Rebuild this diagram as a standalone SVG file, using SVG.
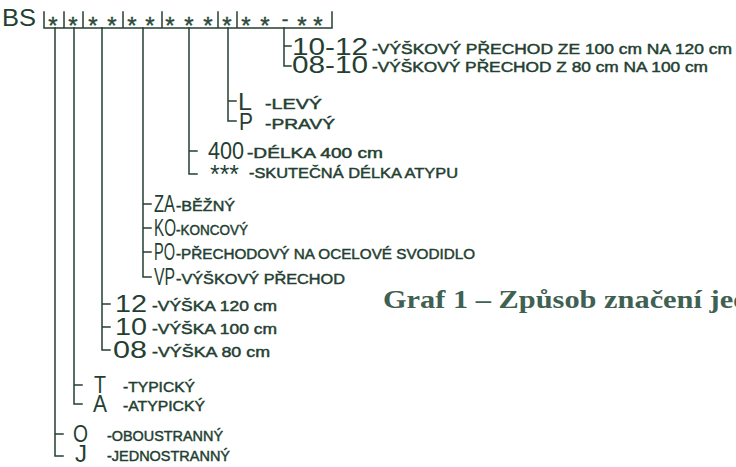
<svg xmlns="http://www.w3.org/2000/svg" width="736" height="467" viewBox="0 0 736 467">
<style>
.bg{fill:#ffffff}
.ln{fill:none;stroke:#243f32;stroke-width:1.5;stroke-linecap:square}
.big{font-family:"Liberation Sans",Arial,sans-serif;font-size:23px;fill:#243f32}
.sm{font-family:"Liberation Sans",Arial,sans-serif;font-size:14px;fill:#243f32;stroke:#243f32;stroke-width:0.45px}
.st{font-family:"Liberation Sans",Arial,sans-serif;font-size:24px;fill:#2c4a3b;stroke:#2c4a3b;stroke-width:0.4px;text-anchor:middle}
.cap{font-family:"Liberation Serif","Times New Roman",serif;font-size:26px;font-weight:bold;fill:#3f6152}
</style>
<rect class="bg" x="0" y="0" width="736" height="467"/>
<g id="connectors">
<path class="ln" d="M44 28H332M44 12V28M64 12V28M83 12V28M123 12V28M162 12V28M218 12V28M237 12V28M332 12V28"/>
<path class="ln" d="M55 28V456H63M55 434H63"/>
<path class="ln" d="M74 28V404H82M74 385H82"/>
<path class="ln" d="M102 28V350H110M102 304H110M102 327H110"/>
<path class="ln" d="M143 28V277H151M143 204H151M143 228H151M143 252H151"/>
<path class="ln" d="M189 28V174H197M189 151H197"/>
<path class="ln" d="M228 28V121H236M228 101H236"/>
<path class="ln" d="M284 28V66H291M284 46H291"/>
</g>
<g id="header">
<text class="big" x="2" y="26" textLength="34" lengthAdjust="spacingAndGlyphs">BS</text>
<text class="st" x="53 73 93 112 132 150 170 189 208 227 246 265" y="34">************</text>
<text class="st" x="285" y="26" style="font-size:20px">-</text>
<text class="st" x="302 318" y="34">**</text>
</g>
<g id="n-10-12">
<text class="big" x="292" y="55" textLength="76" lengthAdjust="spacingAndGlyphs">10-12</text>
<text class="sm" x="372" y="54" textLength="360" lengthAdjust="spacingAndGlyphs">-VÝŠKOVÝ PŘECHOD ZE 100 cm NA 120 cm</text>
</g>
<g id="n-08-10">
<text class="big" x="292" y="73" textLength="76" lengthAdjust="spacingAndGlyphs">08-10</text>
<text class="sm" x="372" y="72" textLength="336" lengthAdjust="spacingAndGlyphs">-VÝŠKOVÝ PŘECHOD Z 80 cm NA 100 cm</text>
</g>
<g id="n-L">
<text class="big" x="238" y="110" textLength="14" lengthAdjust="spacingAndGlyphs">L</text>
<text class="sm" x="265" y="109" textLength="57" lengthAdjust="spacingAndGlyphs">-LEVÝ</text>
</g>
<g id="n-P">
<text class="big" x="239" y="130" textLength="14" lengthAdjust="spacingAndGlyphs">P</text>
<text class="sm" x="265" y="129" textLength="70" lengthAdjust="spacingAndGlyphs">-PRAVÝ</text>
</g>
<g id="n-400">
<text class="big" x="208" y="159" textLength="36" lengthAdjust="spacingAndGlyphs">400</text>
<text class="sm" x="247" y="158" textLength="136" lengthAdjust="spacingAndGlyphs">-DÉLKA 400 cm</text>
</g>
<g id="n-atyp">
<text class="big" x="210" y="183" style="font-size:26px" textLength="29" lengthAdjust="spacingAndGlyphs">***</text>
<text class="sm" x="249" y="178" textLength="209" lengthAdjust="spacingAndGlyphs">-SKUTEČNÁ DÉLKA ATYPU</text>
</g>
<g id="n-ZA">
<text class="big" x="154" y="212" textLength="21" lengthAdjust="spacingAndGlyphs">ZA</text>
<text class="sm" x="176" y="211" textLength="59" lengthAdjust="spacingAndGlyphs">-BĚŽNÝ</text>
</g>
<g id="n-KO">
<text class="big" x="154" y="236" textLength="22" lengthAdjust="spacingAndGlyphs">KO</text>
<text class="sm" x="176" y="235" textLength="72" lengthAdjust="spacingAndGlyphs">-KONCOVÝ</text>
</g>
<g id="n-PO">
<text class="big" x="154" y="260" textLength="21" lengthAdjust="spacingAndGlyphs">PO</text>
<text class="sm" x="176" y="259" textLength="299" lengthAdjust="spacingAndGlyphs">-PŘECHODOVÝ NA OCELOVÉ SVODIDLO</text>
</g>
<g id="n-VP">
<text class="big" x="154" y="285" textLength="21" lengthAdjust="spacingAndGlyphs">VP</text>
<text class="sm" x="176" y="284" textLength="169" lengthAdjust="spacingAndGlyphs">-VÝŠKOVÝ PŘECHOD</text>
</g>
<g id="n-12">
<text class="big" x="115" y="312" textLength="32" lengthAdjust="spacingAndGlyphs">12</text>
<text class="sm" x="152" y="311" textLength="125" lengthAdjust="spacingAndGlyphs">-VÝŠKA 120 cm</text>
</g>
<g id="n-10">
<text class="big" x="115" y="335" textLength="32" lengthAdjust="spacingAndGlyphs">10</text>
<text class="sm" x="152" y="334" textLength="125" lengthAdjust="spacingAndGlyphs">-VÝŠKA 100 cm</text>
</g>
<g id="n-08">
<text class="big" x="113" y="358" textLength="34" lengthAdjust="spacingAndGlyphs">08</text>
<text class="sm" x="152" y="357" textLength="118" lengthAdjust="spacingAndGlyphs">-VÝŠKA 80 cm</text>
</g>
<g id="n-T">
<text class="big" x="94" y="393" textLength="12" lengthAdjust="spacingAndGlyphs">T</text>
<text class="sm" x="123" y="392" textLength="72" lengthAdjust="spacingAndGlyphs">-TYPICKÝ</text>
</g>
<g id="n-A">
<text class="big" x="93" y="412" textLength="14" lengthAdjust="spacingAndGlyphs">A</text>
<text class="sm" x="123" y="411" textLength="82" lengthAdjust="spacingAndGlyphs">-ATYPICKÝ</text>
</g>
<g id="n-O">
<text class="big" x="73" y="442" textLength="15" lengthAdjust="spacingAndGlyphs">O</text>
<text class="sm" x="107" y="441" textLength="116" lengthAdjust="spacingAndGlyphs">-OBOUSTRANNÝ</text>
</g>
<g id="n-J">
<text class="big" x="75" y="462" textLength="12" lengthAdjust="spacingAndGlyphs">J</text>
<text class="sm" x="107" y="461" textLength="123" lengthAdjust="spacingAndGlyphs">-JEDNOSTRANNÝ</text>
</g>
<g id="caption">
<text class="cap" x="383" y="308" textLength="367" lengthAdjust="spacingAndGlyphs">Graf 1 – Způsob značení jed</text>
</g>
</svg>
